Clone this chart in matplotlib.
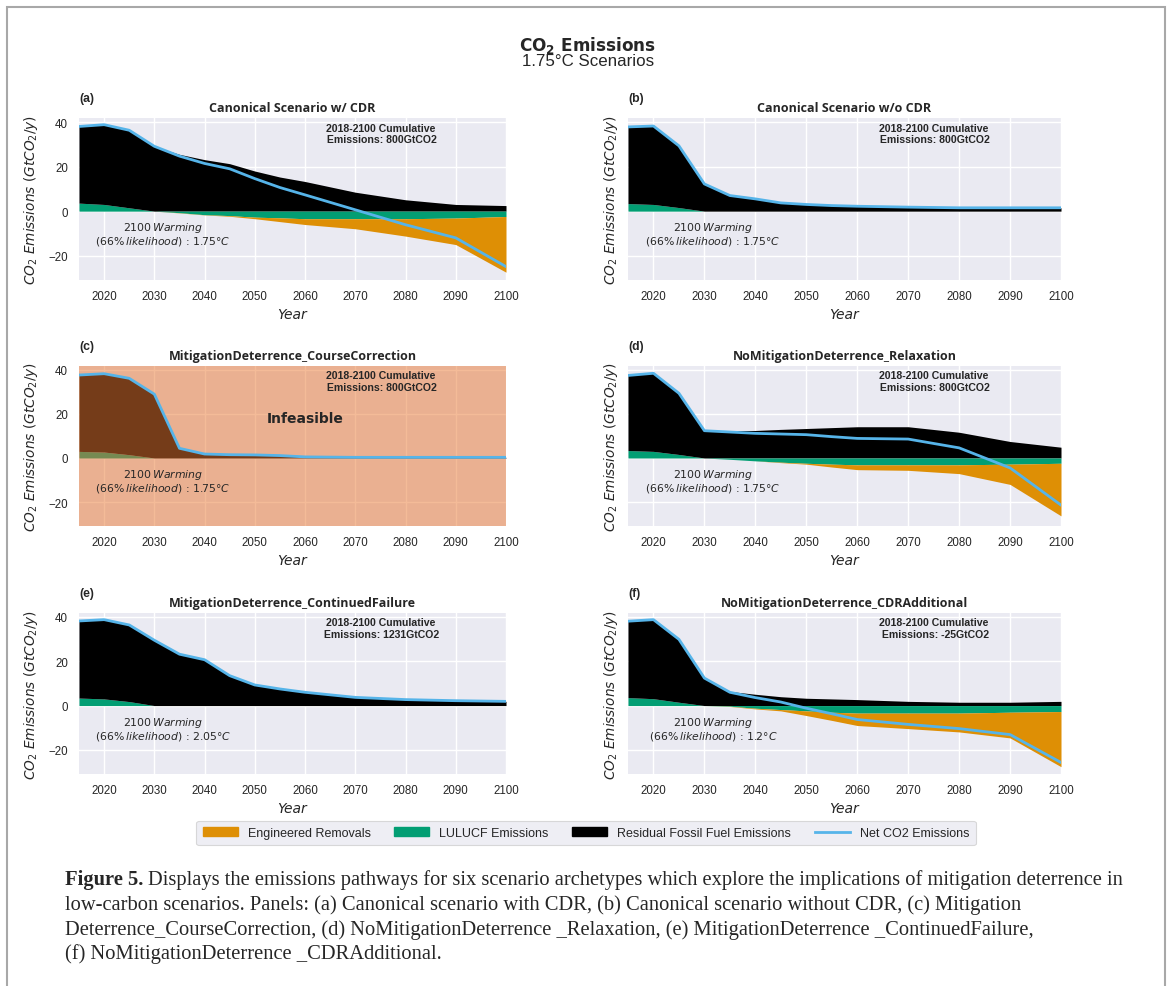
import numpy as np
import matplotlib.pyplot as plt
from matplotlib.patches import Patch, Rectangle
from matplotlib.lines import Line2D

# %% data (GtCO2/y)
years = [2015, 2020, 2025, 2030, 2035, 2040, 2045, 2050, 2055, 2060, 2070, 2080, 2090, 2100]

panel_tags = ['(a)', '(b)', '(c)', '(d)', '(e)', '(f)']
titles = ['Canonical Scenario w/ CDR',
          'Canonical Scenario w/o CDR',
          'MitigationDeterrence_CourseCorrection',
          'NoMitigationDeterrence_Relaxation',
          'MitigationDeterrence_ContinuedFailure',
          'NoMitigationDeterrence_CDRAdditional']
cumulative = ['800', '800', '800', '800', '1231', '-25']
warming = ['1.75', '1.75', '1.75', '1.75', '2.05', '1.2']

fossil_a = [34.4, 35.8, 34.8, 29.1, 25.5, 23.1, 21.3, 18.0, 15.3, 13.3, 8.5, 5.1, 3.0, 2.5]
lulucf_a = [3.6, 3.0, 1.5, 0.0, -0.7, -1.6, -2.0, -2.7, -3.0, -3.4, -3.4, -3.4, -3.1, -2.4]
removals_a = [0, 0, 0, 0, -0.1, -0.1, -0.3, -0.7, -1.7, -2.6, -4.5, -7.8, -11.9, -25.0]

fossil_b = [34.4, 35.2, 27.7, 12.2, 7.0, 5.5, 3.7, 3.0, 2.5, 2.2, 1.8, 1.5, 1.5, 1.5]
lulucf_b = [3.4, 3.0, 1.6, 0, 0, 0, 0, 0, 0, 0, 0, 0, 0, 0]
removals_b = [0, 0, 0, 0, 0, 0, 0, 0, 0, 0, 0, 0, 0, 0]

fossil_c = [34.7, 35.6, 34.7, 29.0, 4.4, 1.8, 1.5, 1.4, 1.1, 0.5, 0.3, 0.3, 0.3, 0.3]
lulucf_c = [3.0, 2.7, 1.5, 0, 0, 0, 0, 0, 0, 0, 0, 0, 0, 0]
removals_c = [0, 0, 0, 0, 0, 0, 0, 0, 0, 0, 0, 0, 0, 0]

fossil_d = [34.1, 35.5, 27.8, 12.4, 12.4, 12.5, 13.0, 13.4, 13.8, 14.2, 14.2, 11.7, 7.5, 4.9]
lulucf_d = [3.4, 3.0, 1.6, 0, -0.6, -1.3, -1.9, -2.4, -2.8, -3.1, -3.1, -3.1, -2.8, -2.4]
removals_d = [0, 0, 0, 0, 0, 0, -0.2, -0.4, -1.3, -2.2, -2.5, -4.0, -9.2, -23.9]

fossil_e = [34.8, 35.8, 34.6, 29.5, 23.2, 20.7, 13.5, 9.3, 7.5, 6.0, 3.7, 2.7, 2.2, 1.9]
lulucf_e = [3.4, 3.0, 1.8, 0, 0, 0, 0, 0, 0, 0, 0, 0, 0, 0]
removals_e = [0, 0, 0, 0, 0, 0, 0, 0, 0, 0, 0, 0, 0, 0]

fossil_f = [34.5, 35.7, 28.4, 12.4, 6.4, 5.1, 4.0, 3.3, 3.0, 2.7, 1.9, 1.5, 1.5, 1.9]
lulucf_f = [3.6, 3.1, 1.5, 0, -0.3, -1.2, -1.8, -2.4, -3.0, -3.4, -3.4, -3.4, -3.0, -2.7]
removals_f = [0, 0, 0, 0, -0.1, -0.3, -0.6, -2.1, -3.7, -5.6, -7.0, -8.5, -11.6, -24.9]

fossil_all = [fossil_a, fossil_b, fossil_c, fossil_d, fossil_e, fossil_f]
lulucf_all = [lulucf_a, lulucf_b, lulucf_c, lulucf_d, lulucf_e, lulucf_f]
removals_all = [removals_a, removals_b, removals_c, removals_d, removals_e, removals_f]
infeasible = [False, False, True, False, False, False]

caption_lines = [
    'Displays the emissions pathways for six scenario archetypes which explore the implications of mitigation deterrence in',
    'low-carbon scenarios. Panels: (a) Canonical scenario with CDR, (b) Canonical scenario without CDR, (c) Mitigation',
    'Deterrence_CourseCorrection, (d) NoMitigationDeterrence _Relaxation, (e) MitigationDeterrence _ContinuedFailure,',
    '(f) NoMitigationDeterrence _CDRAdditional.',
]

ORANGE = '#DE8F05'
GREEN = '#029E73'
BLUE = '#56B4E9'
INFEAS = '#EA7832'

plt.rcParams.update({
    'font.family': ['Liberation Sans', 'DejaVu Sans'],
    'axes.facecolor': '#EAEAF2',
    'axes.grid': True,
    'axes.axisbelow': True,
    'grid.color': 'white',
    'grid.linewidth': 1.0,
    'xtick.major.size': 0,
    'ytick.major.size': 0,
    'xtick.major.pad': 7,
    'ytick.major.pad': 8,
    'xtick.color': '.15',
    'ytick.color': '.15',
    'text.color': '.15',
    'axes.labelcolor': '.15',
    'mathtext.fontset': 'dejavusans',
})

W, H = 1171, 987
fig = plt.figure(figsize=(W / 100, H / 100), dpi=100)

# axes boxes in pixels: left, top, right, bottom
boxes = [(79, 119, 506, 281), (628, 119, 1061, 281),
         (79, 367, 506, 527), (628, 367, 1061, 527),
         (79, 614, 506, 775), (628, 614, 1061, 775)]

yrs = np.array(years)
for i in range(6):
    l, t, r, b = boxes[i]
    ax = fig.add_axes([l / W, 1 - b / H, (r - l) / W, (b - t) / H])
    for s in ax.spines.values():
        s.set_visible(False)

    fossil = np.array(fossil_all[i])
    lulucf = np.array(lulucf_all[i])
    removals = np.array(removals_all[i])
    lpos = np.clip(lulucf, 0, None)
    lneg = np.clip(lulucf, None, 0)
    net = fossil + lulucf + removals

    ax.fill_between(yrs, 0, lpos, color=GREEN, lw=0, zorder=2)
    ax.fill_between(yrs, lpos, lpos + fossil, color='black', lw=0, zorder=2)
    ax.fill_between(yrs, 0, lneg, color=GREEN, lw=0, zorder=2)
    ax.fill_between(yrs, lneg, lneg + removals, color=ORANGE, lw=0, zorder=2)
    ax.plot(yrs, net, color=BLUE, lw=2, zorder=5)

    if infeasible[i]:
        ax.add_patch(Rectangle((0, 0), 1, 1, transform=ax.transAxes,
                               color=INFEAS, alpha=0.5, lw=0, zorder=3))
        ax.text(2060, 18, 'Infeasible', family='DejaVu Sans', fontweight='bold',
                fontsize=10, ha='center', va='center', zorder=6)

    ax.set_xlim(2015, 2100)
    ax.set_ylim(-30.9, 41.8)
    ax.set_xticks(range(2020, 2101, 10))
    ax.set_yticks([-20, 0, 20, 40])
    ax.tick_params(labelsize=8.3)
    if i % 2 == 1:
        ax.tick_params(labelleft=False)

    ax.set_xlabel('Year', family='DejaVu Sans', style='italic', fontsize=10, labelpad=4)
    ax.set_ylabel(r'$CO_2\ Emissions\ (GtCO_2/y)$', fontsize=9.8, labelpad=6)
    ax.set_title(titles[i], family='Open Sans', fontweight='bold', fontsize=9, pad=5)
    ax.text(0, 1.105, panel_tags[i], transform=ax.transAxes, fontweight='bold',
            fontsize=8.8, ha='left', va='baseline')

    ax.text(2075, 35, '2018-2100 Cumulative\n Emissions: ' + cumulative[i] + 'GtCO2',
            fontweight='bold', fontsize=7.6, ha='center', va='center',
            multialignment='center', linespacing=1.15, zorder=6)
    ax.text(2031.7, -10.2, '2100$\\,Warming$\n(66%$\\,likelihood$) : ' + warming[i] + '°$C$',
            family='DejaVu Sans', fontsize=7.8, ha='center', va='center',
            multialignment='center', linespacing=1.0, zorder=6)

# overall title
fig.text(588 / W, 1 - 45 / H, r'$\mathbf{CO_2}$ Emissions', family='DejaVu Sans',
         fontweight='bold', fontsize=12.2, ha='center', va='center')
fig.text(588 / W, 1 - 62 / H, '1.75°C Scenarios', fontsize=12.2, ha='center', va='center')

handles = [Patch(color=ORANGE), Patch(color=GREEN), Patch(color='black'),
           Line2D([], [], color=BLUE, lw=2)]
leg = fig.legend(handles, ['Engineered Removals', 'LULUCF Emissions',
                           'Residual Fossil Fuel Emissions', 'Net CO2 Emissions'],
                 ncol=4, loc='center', bbox_to_anchor=(586 / W, 1 - 834 / H),
                 fontsize=9.0, frameon=True, facecolor='#EAEAF2', edgecolor='#D0D0D0',
                 handlelength=2.8, columnspacing=1.9, borderpad=0.5)
leg.get_frame().set_linewidth(0.8)

# caption
renderer = fig.canvas.get_renderer()
cap_x = 65 / W
cap_y = [880, 905, 930, 954]
cap_size = 14.8
bold = fig.text(cap_x, 1 - cap_y[0] / H, 'Figure 5.', family='Liberation Serif',
                fontweight='bold', fontsize=cap_size, va='center')
bw = bold.get_window_extent(renderer).width
fig.text(cap_x + (bw + 5) / W, 1 - cap_y[0] / H, caption_lines[0],
         family='Liberation Serif', fontsize=cap_size, va='center')
for k in range(1, 4):
    fig.text(cap_x, 1 - cap_y[k] / H, caption_lines[k], family='Liberation Serif',
             fontsize=cap_size, va='center')

# frame around the figure
fig.add_artist(Rectangle((7 / W, -0.1), (1165 - 7) / W, 1.1 - 8 / H,
                         transform=fig.transFigure, fill=False,
                         edgecolor='#A8A8A8', lw=1.5))

fig.savefig('out.png', dpi=100)
